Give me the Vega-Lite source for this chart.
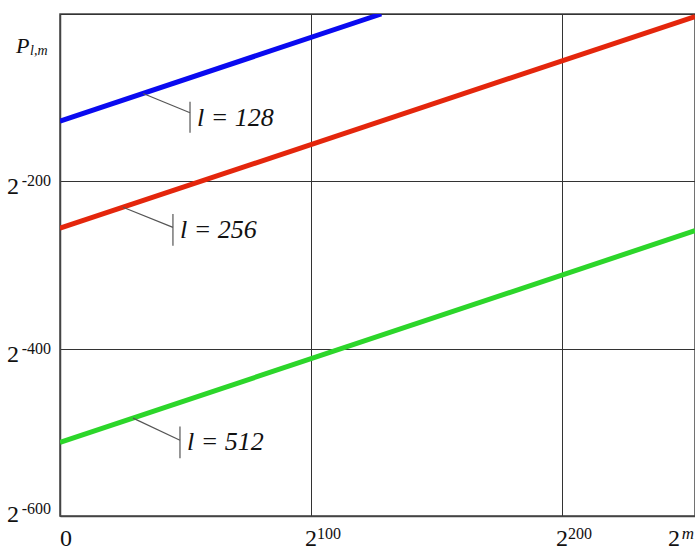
{
  "$schema": "https://vega.github.io/schema/vega-lite/v6.json",
  "width": 635,
  "height": 502,
  "autosize": {"type": "none"},
  "padding": {"left": 60, "top": 14, "right": 0, "bottom": 34},
  "background": "white",
  "config": {
    "view": {"stroke": "#444", "strokeWidth": 1.5}
  },
  "datasets": {
    "curves": [
      {"l": 128, "m": 0, "p": -128},
      {"l": 128, "m": 128, "p": 0},
      {"l": 256, "m": 0, "p": -256},
      {"l": 256, "m": 253, "p": -3},
      {"l": 512, "m": 0, "p": -512},
      {"l": 512, "m": 253, "p": -259}
    ],
    "leaders": [
      {"seg": "a1", "m": 33.1, "p": -95},
      {"seg": "a1", "m": 51.8, "p": -118},
      {"seg": "a2", "m": 51.8, "p": -105},
      {"seg": "a2", "m": 51.8, "p": -142},
      {"seg": "b1", "m": 25.1, "p": -231},
      {"seg": "b1", "m": 45.0, "p": -255},
      {"seg": "b2", "m": 45.0, "p": -239},
      {"seg": "b2", "m": 45.0, "p": -277},
      {"seg": "c1", "m": 29.1, "p": -483},
      {"seg": "c1", "m": 47.8, "p": -509.5},
      {"seg": "c2", "m": 47.8, "p": -493},
      {"seg": "c2", "m": 47.8, "p": -531}
    ],
    "notes": [
      {"m": 54.6, "p": -133.3, "t": "l = 128"},
      {"m": 47.8, "p": -268, "t": "l = 256"},
      {"m": 50.6, "p": -521.4, "t": "l = 512"}
    ],
    "ylabels": [
      {"p": -200, "base": "2", "exp": "-200"},
      {"p": -400, "base": "2", "exp": "-400"},
      {"p": -592, "base": "2", "exp": "-600"}
    ],
    "xlabels": [
      {"m": 100, "base": "2", "exp": "100"},
      {"m": 200, "base": "2", "exp": "200"}
    ],
    "zero": [{"m": 0, "t": "0"}],
    "mlab": [{"m": 253, "base": "2", "exp": "m"}],
    "plab": [{"m": 0, "p": 0, "base": "P", "sub": "l,m"}]
  },
  "layer": [
    {
      "data": {"name": "curves"},
      "mark": {"type": "line", "strokeWidth": 5, "clip": true},
      "encoding": {
        "x": {
          "field": "m", "type": "quantitative",
          "scale": {"domain": [0, 253], "nice": false, "zero": false},
          "axis": {"title": null, "labels": false, "ticks": false, "values": [0, 100, 200], "grid": true, "gridColor": "#333", "gridOpacity": 1, "gridWidth": 1, "domainColor": "#444", "domainWidth": 1.5}
        },
        "y": {
          "field": "p", "type": "quantitative",
          "scale": {"domain": [-600, 0], "nice": false, "zero": false},
          "axis": {"title": null, "labels": false, "ticks": false, "values": [-600, -400, -200, 0], "grid": true, "gridColor": "#333", "gridOpacity": 1, "gridWidth": 1, "domainColor": "#444", "domainWidth": 1.5}
        },
        "color": {
          "field": "l", "type": "nominal",
          "scale": {"domain": [128, 256, 512], "range": ["#0a0af0", "#e4260c", "#2cd62a"]},
          "legend": null
        },
        "detail": {"field": "l"}
      }
    },
    {
      "data": {"name": "leaders"},
      "mark": {"type": "line", "stroke": "#555", "strokeWidth": 1.2},
      "encoding": {
        "x": {"field": "m", "type": "quantitative"},
        "y": {"field": "p", "type": "quantitative"},
        "detail": {"field": "seg"}
      }
    },
    {
      "data": {"name": "notes"},
      "mark": {"type": "text", "align": "left", "baseline": "alphabetic", "fontSize": 26, "fontStyle": "italic", "font": "Liberation Serif", "color": "#111"},
      "encoding": {
        "x": {"field": "m", "type": "quantitative"},
        "y": {"field": "p", "type": "quantitative"},
        "text": {"field": "t"}
      }
    },
    {
      "data": {"name": "ylabels"},
      "mark": {"type": "text", "align": "right", "baseline": "alphabetic", "fontSize": 24, "dx": -41, "dy": 13, "font": "Liberation Serif", "color": "#111"},
      "encoding": {
        "x": {"datum": 0, "type": "quantitative"},
        "y": {"field": "p", "type": "quantitative"},
        "text": {"field": "base"}
      }
    },
    {
      "data": {"name": "ylabels"},
      "mark": {"type": "text", "align": "right", "baseline": "alphabetic", "fontSize": 16, "dx": -9, "dy": 5, "font": "Liberation Serif", "color": "#111"},
      "encoding": {
        "x": {"datum": 0, "type": "quantitative"},
        "y": {"field": "p", "type": "quantitative"},
        "text": {"field": "exp"}
      }
    },
    {
      "data": {"name": "xlabels"},
      "mark": {"type": "text", "align": "right", "baseline": "alphabetic", "fontSize": 24, "dx": 6, "dy": 30, "font": "Liberation Serif", "color": "#111"},
      "encoding": {
        "x": {"field": "m", "type": "quantitative"},
        "y": {"datum": -600, "type": "quantitative"},
        "text": {"field": "base"}
      }
    },
    {
      "data": {"name": "xlabels"},
      "mark": {"type": "text", "align": "left", "baseline": "alphabetic", "fontSize": 16, "dx": 6, "dy": 23, "font": "Liberation Serif", "color": "#111"},
      "encoding": {
        "x": {"field": "m", "type": "quantitative"},
        "y": {"datum": -600, "type": "quantitative"},
        "text": {"field": "exp"}
      }
    },
    {
      "data": {"name": "zero"},
      "mark": {"type": "text", "align": "center", "baseline": "alphabetic", "fontSize": 24, "dx": 6, "dy": 30, "font": "Liberation Serif", "color": "#111"},
      "encoding": {
        "x": {"field": "m", "type": "quantitative"},
        "y": {"datum": -600, "type": "quantitative"},
        "text": {"field": "t"}
      }
    },
    {
      "data": {"name": "mlab"},
      "mark": {"type": "text", "align": "right", "baseline": "alphabetic", "fontSize": 24, "dx": -15, "dy": 30, "font": "Liberation Serif", "color": "#111"},
      "encoding": {
        "x": {"field": "m", "type": "quantitative"},
        "y": {"datum": -600, "type": "quantitative"},
        "text": {"field": "base"}
      }
    },
    {
      "data": {"name": "mlab"},
      "mark": {"type": "text", "align": "right", "baseline": "alphabetic", "fontSize": 17, "fontStyle": "italic", "dx": -1, "dy": 23, "font": "Liberation Serif", "color": "#111"},
      "encoding": {
        "x": {"field": "m", "type": "quantitative"},
        "y": {"datum": -600, "type": "quantitative"},
        "text": {"field": "exp"}
      }
    },
    {
      "data": {"name": "plab"},
      "mark": {"type": "text", "align": "left", "baseline": "alphabetic", "fontSize": 22, "fontStyle": "italic", "dx": -44, "dy": 39, "font": "Liberation Serif", "color": "#111"},
      "encoding": {
        "x": {"field": "m", "type": "quantitative"},
        "y": {"field": "p", "type": "quantitative"},
        "text": {"field": "base"}
      }
    },
    {
      "data": {"name": "plab"},
      "mark": {"type": "text", "align": "left", "baseline": "alphabetic", "fontSize": 14, "fontStyle": "italic", "dx": -30, "dy": 41, "font": "Liberation Serif", "color": "#111"},
      "encoding": {
        "x": {"field": "m", "type": "quantitative"},
        "y": {"field": "p", "type": "quantitative"},
        "text": {"field": "sub"}
      }
    }
  ]
}
